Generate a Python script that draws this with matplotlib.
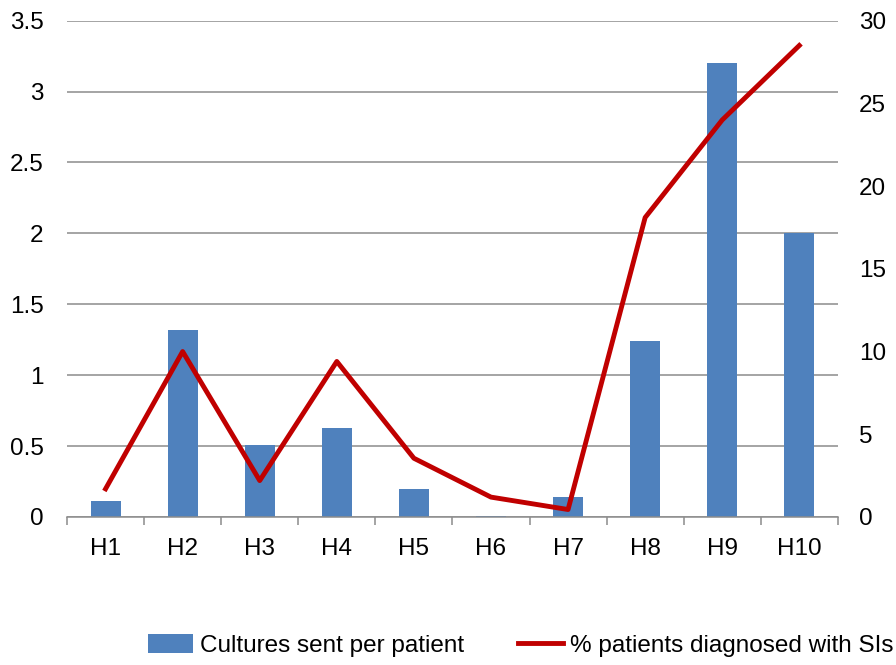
import numpy as np
import matplotlib.pyplot as plt
from matplotlib.patches import Patch
from matplotlib.lines import Line2D

plt.rcParams['font.family'] = ['Liberation Sans', 'DejaVu Sans']

hospitals = ["H1", "H2", "H3", "H4", "H5", "H6", "H7", "H8", "H9", "H10"]
cultures = [0.11, 1.32, 0.51, 0.63, 0.20, 0.01, 0.14, 1.24, 3.20, 2.00]
pct_si = [1.7, 10.0, 2.2, 9.4, 3.55, 1.2, 0.45, 18.1, 24.0, 28.5]

bar_col = "#4F81BD"
line_col = "#C00000"
grid_col = "#8C8C8C"

fig = plt.figure(figsize=(8.96, 6.65), dpi=100)
ax = fig.add_axes([0.0748, 0.2226, 0.8603, 0.7463])
x = np.arange(len(hospitals))

ax.bar(x, cultures, width=0.39, color=bar_col, zorder=2)
ax.set_xlim(-0.5, len(hospitals) - 0.5)
ax.set_ylim(0, 3.5)
ax.set_yticks(np.arange(0, 3.51, 0.5))
ax.set_yticklabels(["0", "0.5", "1", "1.5", "2", "2.5", "3", "3.5"])
ax.yaxis.grid(True, color=grid_col, linewidth=1.1, zorder=0)
ax.set_axisbelow(True)

ax.set_xticks(x)
ax.set_xticklabels(hospitals)
ax.set_xticks(np.arange(-0.5, len(hospitals)), minor=True)
ax.tick_params(axis='x', which='major', length=0, pad=15, labelsize=17.5)
ax.tick_params(axis='x', which='minor', length=6, width=1.1, color=grid_col)
ax.tick_params(axis='y', length=0, pad=17, labelsize=17.5)

for s in ["top", "left", "right"]:
    ax.spines[s].set_visible(False)
ax.spines["bottom"].set_color(grid_col)
ax.spines["bottom"].set_linewidth(1.1)

ax2 = ax.twinx()
ax2.plot(x, pct_si, color=line_col, linewidth=3.5, zorder=3)
ax2.set_ylim(0, 30)
ax2.set_yticks(np.arange(0, 31, 5))
ax2.tick_params(axis='y', length=0, pad=15, labelsize=17.5)
for s in ax2.spines.values():
    s.set_visible(False)

handles = [Patch(facecolor=bar_col, edgecolor='none'),
           Line2D([0], [0], color=line_col, linewidth=3.5)]
labels = ["Cultures sent per patient", "% patients diagnosed with SIs"]
fig.legend(handles, labels, loc='center', bbox_to_anchor=(0.5815, 0.029),
           ncol=2, frameon=False, fontsize=17.5, handlelength=1.85,
           handleheight=0.8, handletextpad=0.3, columnspacing=2.2,
           borderpad=0, borderaxespad=0)

fig.savefig("out.png", dpi=100)
